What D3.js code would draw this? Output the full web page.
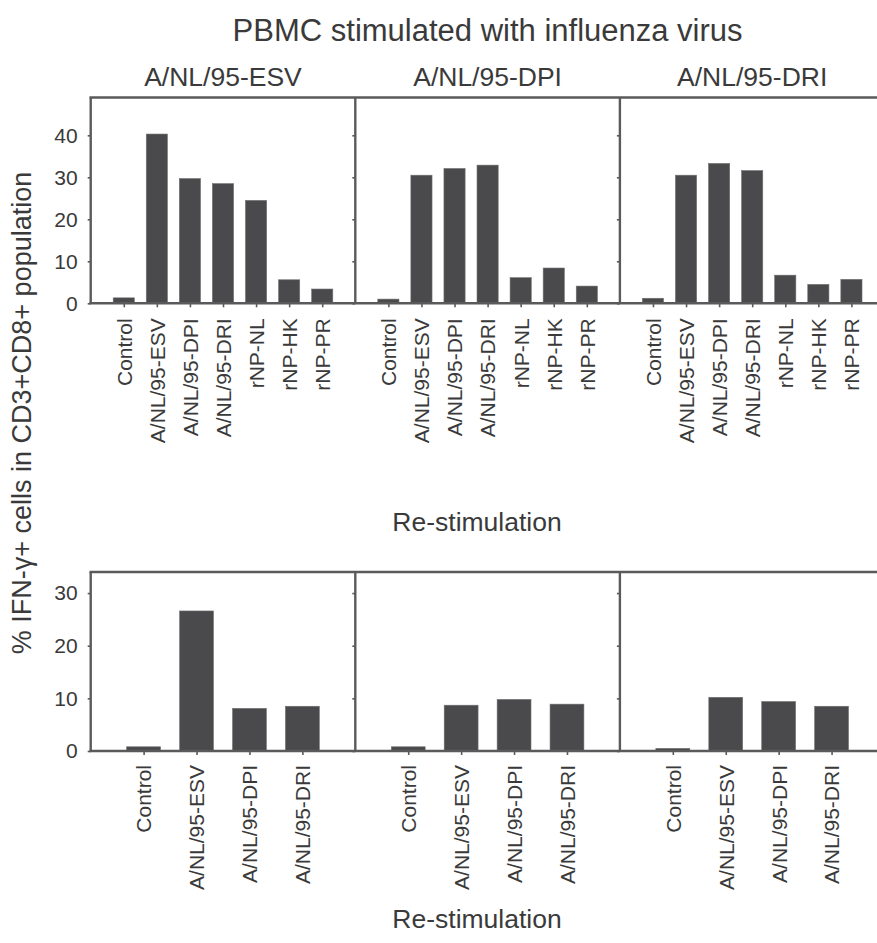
<!DOCTYPE html>
<html>
<head>
<meta charset="utf-8">
<script src="https://cdn.jsdelivr.net/npm/d3@7"></script>
<style>
  html, body { margin: 0; padding: 0; background: #fff; }
  svg { display: block; }
  text { font-family: "Liberation Sans", Arial, sans-serif; fill: #3a3a3a; }
</style>
</head>
<body>
<svg id="chart" width="877" height="943"></svg>
<script>
// Virus strains used for stimulation (one column of panels each)
const strains = ["A/NL/95-ESV", "A/NL/95-DPI", "A/NL/95-DRI"];

// Re-stimulation antigens
const topCategories = ["Control", "A/NL/95-ESV", "A/NL/95-DPI", "A/NL/95-DRI", "rNP-NL", "rNP-HK", "rNP-PR"];
const bottomCategories = ["Control", "A/NL/95-ESV", "A/NL/95-DPI", "A/NL/95-DRI"];

// % IFN-γ+ cells in CD3+CD8+ population, upper row
const topESV = [1.3, 40.3, 29.7, 28.5, 24.5, 5.6, 3.4];
const topDPI = [1.0, 30.5, 32.1, 32.9, 6.1, 8.4, 4.1];
const topDRI = [1.2, 30.5, 33.3, 31.6, 6.7, 4.5, 5.7];

// % IFN-γ+ cells in CD3+CD8+ population, lower row
const bottomESV = [0.8, 26.6, 8.1, 8.5];
const bottomDPI = [0.8, 8.7, 9.8, 8.9];
const bottomDRI = [0.5, 10.2, 9.4, 8.5];

// Axis ticks and ranges
const topTicks = [0, 10, 20, 30, 40];
const bottomTicks = [0, 10, 20, 30];
const topMax = 49;
const bottomMax = 34;

const svg = d3.select("#chart");

const panelLeft = 90.7;
const panelWidth = 264.6;
const axisColor = "#5a5a5a";
const barColor = "#4a4a4c";

const rows = [
  { cats: topCategories, series: [topESV, topDPI, topDRI], ticks: topTicks, max: topMax,
    top: 97.5, bottom: 303.3, labelGap: 15, restimY: 531 },
  { cats: bottomCategories, series: [bottomESV, bottomDPI, bottomDRI], ticks: bottomTicks, max: bottomMax,
    top: 572, bottom: 751, labelGap: 14, restimY: 928 }
];

// Figure title and column headers
svg.append("text")
  .attr("x", panelLeft + panelWidth * 1.5)
  .attr("y", 41)
  .attr("text-anchor", "middle")
  .style("font-size", "31px")
  .text("PBMC stimulated with influenza virus");

strains.forEach((s, j) => {
  svg.append("text")
    .attr("x", panelLeft + panelWidth * (j + 0.5))
    .attr("y", 86)
    .attr("text-anchor", "middle")
    .style("font-size", "26.5px")
    .text(s);
});

rows.forEach(row => {
  const y = d3.scaleLinear().domain([0, row.max]).range([row.bottom, row.top]);
  const g = svg.append("g");

  row.series.forEach((values, j) => {
    const x0 = panelLeft + panelWidth * j;
    const x = d3.scalePoint().domain(row.cats).range([0, panelWidth]).padding(1);
    const bw = x.step() * 0.64;
    const pg = g.append("g").attr("transform", `translate(${x0},0)`);

    // bars
    pg.selectAll("rect.bar")
      .data(values)
      .join("rect")
      .attr("class", "bar")
      .attr("x", (d, i) => x(row.cats[i]) - bw / 2)
      .attr("width", bw)
      .attr("y", d => y(d))
      .attr("height", d => y(0) - y(d))
      .attr("fill", barColor)
      .attr("stroke", "#707070")
      .attr("stroke-width", 0.6);

    // x axis with rotated category labels
    const xa = pg.append("g")
      .attr("transform", `translate(0,${row.bottom})`)
      .call(d3.axisBottom(x).tickSize(4).tickSizeOuter(0));
    xa.select(".domain").remove();
    xa.selectAll(".tick line").attr("stroke", axisColor).attr("stroke-width", 1.6);
    xa.selectAll(".tick text")
      .attr("transform", "rotate(-90)")
      .attr("x", -row.labelGap)
      .attr("y", 0)
      .attr("dy", "0.35em")
      .attr("text-anchor", "end")
      .style("font-size", "21px")
      .style("font-family", "'Liberation Sans', Arial, sans-serif")
      .attr("fill", "#3a3a3a");

    // y axis on the left edge of every panel
    const ya = pg.append("g")
      .call(d3.axisLeft(y).tickValues(row.ticks).tickSize(3).tickSizeOuter(0).tickFormat(d3.format("d")));
    ya.select(".domain").remove();
    ya.selectAll(".tick line").attr("stroke", axisColor).attr("stroke-width", 1.6);
    if (j === 0) {
      ya.selectAll(".tick text")
        .attr("x", -13)
        .style("font-size", "21px")
        .style("font-family", "'Liberation Sans', Arial, sans-serif")
        .attr("fill", "#3a3a3a");
    } else {
      ya.selectAll(".tick text").remove();
    }

    // panel frame: left border
    pg.append("line")
      .attr("x1", 0).attr("x2", 0)
      .attr("y1", row.top).attr("y2", row.bottom)
      .attr("stroke", axisColor).attr("stroke-width", 2.4);
  });

  // frame: top border and baseline across all panels
  [row.top, row.bottom].forEach(yy => {
    g.append("line")
      .attr("x1", panelLeft - 1.2).attr("x2", panelLeft + panelWidth * 3 + 1)
      .attr("y1", yy).attr("y2", yy)
      .attr("stroke", axisColor).attr("stroke-width", 2.4);
  });

  svg.append("text")
    .attr("x", 477)
    .attr("y", row.restimY)
    .attr("text-anchor", "middle")
    .style("font-size", "26.5px")
    .text("Re-stimulation");
});

// shared y-axis title
svg.append("text")
  .attr("transform", "translate(31,413) rotate(-90)")
  .attr("text-anchor", "middle")
  .style("font-size", "27px")
  .text("% IFN-γ+ cells in CD3+CD8+ population");
</script>
</body>
</html>
